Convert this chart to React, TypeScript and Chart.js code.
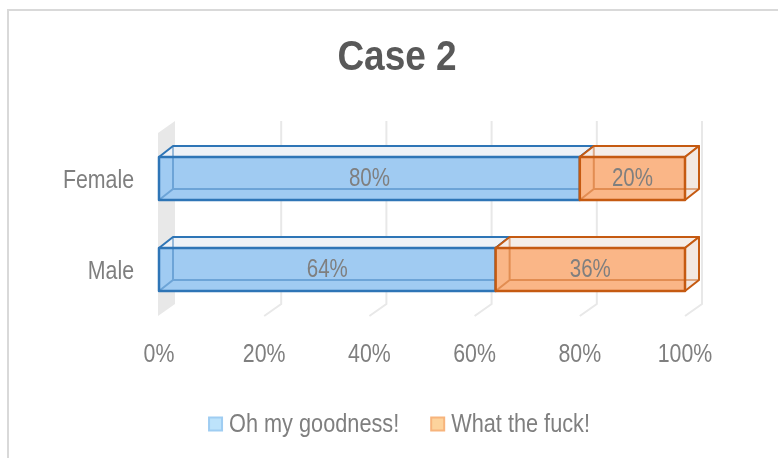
import React, { useEffect, useRef } from 'react';
import { Chart, registerables } from 'chart.js';

Chart.register(...registerables);

const categories = ['Female', 'Male'];
const seriesNames = ['Oh my goodness!', 'What the fuck!'];
const ohMyGoodness = [80, 64];
const whatTheFuck = [20, 36];
const xTickValues = [0, 20, 40, 60, 80, 100];
const chartTitle = 'Case 2';

const FONT = "'Liberation Sans', Arial, sans-serif";
const NARROW = 0.82; // horizontal squeeze giving a narrow face
const TEXT_GRAY = '#7f7f7f';

const faces = [
  { front: '#a0cbf2', top: '#eef2f7', side: '#e9f1f9', edge: '#2e75b6', inner: 'rgba(46,117,182,0.45)', legendFill: '#bde3fb', legendEdge: '#9fcdf2' },
  { front: '#fab687', top: '#f5ede8', side: '#f3e8e1', edge: '#c55a11', inner: 'rgba(197,90,17,0.45)', legendFill: '#fdd39c', legendEdge: '#f7b47c' },
];

// depth of bars and of the wall (3D look)
const DX = 14, DY = -11;
const WX = 17, WY = -12;

function poly(ctx: CanvasRenderingContext2D, pts: number[][], fill: string, stroke: string) {
  ctx.beginPath();
  ctx.moveTo(pts[0][0], pts[0][1]);
  for (let i = 1; i < pts.length; i++) ctx.lineTo(pts[i][0], pts[i][1]);
  ctx.closePath();
  ctx.fillStyle = fill;
  ctx.fill();
  ctx.strokeStyle = stroke;
  ctx.lineWidth = 2;
  ctx.stroke();
}

function narrowText(ctx: CanvasRenderingContext2D, text: string, x: number, y: number, align: CanvasTextAlign, font: string, color: string, sx = NARROW) {
  ctx.save();
  ctx.font = font;
  ctx.fillStyle = color;
  ctx.textAlign = align;
  ctx.textBaseline = 'middle';
  ctx.translate(x, y);
  ctx.scale(sx, 1);
  ctx.fillText(text, 0, 0);
  ctx.restore();
}

function narrowWidth(ctx: CanvasRenderingContext2D, text: string, font: string, sx = NARROW) {
  ctx.save();
  ctx.font = font;
  const w = ctx.measureText(text).width * sx;
  ctx.restore();
  return w;
}

const backdrop = {
  id: 'backdrop',
  beforeDatasetsDraw(chart: any) {
    const { ctx, chartArea, scales } = chart;
    const xs = scales.x;
    const top = chartArea.top;
    const bottom = chartArea.bottom + 1;
    const x0 = xs.getPixelForValue(0) - 1;
    ctx.save();
    ctx.fillStyle = '#e8e8e8';
    ctx.beginPath();
    ctx.moveTo(x0, top);
    ctx.lineTo(x0 + WX, top + WY);
    ctx.lineTo(x0 + WX, bottom + WY);
    ctx.lineTo(x0, bottom);
    ctx.closePath();
    ctx.fill();
    ctx.strokeStyle = '#e8e8e8';
    ctx.lineWidth = 2;
    xTickValues.forEach((v) => {
      if (v === 0) return;
      const px = xs.getPixelForValue(v);
      ctx.beginPath();
      ctx.moveTo(px + WX, top + WY);
      ctx.lineTo(px + WX, bottom + WY);
      ctx.lineTo(px, bottom);
      ctx.stroke();
    });
    ctx.restore();
  },
};

const boxes = {
  id: 'boxes',
  afterDatasetsDraw(chart: any) {
    const { ctx } = chart;
    ctx.save();
    ctx.lineJoin = 'round';
    const n = chart.data.labels.length;
    const labelsToDraw: any[] = [];
    for (let i = 0; i < n; i++) {
      chart.data.datasets.forEach((ds: any, d: number) => {
        const el = chart.getDatasetMeta(d).data[i];
        const { x, y, base, height } = el.getProps(['x', 'y', 'base', 'height'], true);
        const l = Math.min(x, base), r = Math.max(x, base);
        const t = y - height / 2, b = y + height / 2;
        const f = faces[d];
        poly(ctx, [[l, t], [l + DX, t + DY], [r + DX, t + DY], [r, t]], f.top, f.edge);
        poly(ctx, [[r, t], [r + DX, t + DY], [r + DX, b + DY], [r, b]], f.side, f.edge);
        ctx.fillStyle = f.front;
        ctx.fillRect(l, t, r - l, b - t);
        ctx.strokeStyle = f.inner;
        ctx.lineWidth = 2;
        ctx.beginPath();
        ctx.moveTo(l + DX, t + DY);
        ctx.lineTo(l + DX, b + DY);
        ctx.lineTo(r + DX, b + DY);
        ctx.moveTo(l, b);
        ctx.lineTo(l + DX, b + DY);
        ctx.stroke();
        ctx.strokeStyle = f.edge;
        ctx.lineWidth = 2.5;
        ctx.strokeRect(l, t, r - l, b - t);
        labelsToDraw.push({ x: (l + r) / 2, y, text: ds.data[i] + '%' });
      });
    }
    ctx.restore();
    labelsToDraw.forEach((lb) => narrowText(ctx, lb.text, lb.x, lb.y + 1, 'center', `25px ${FONT}`, TEXT_GRAY));
  },
};

const texts = {
  id: 'texts',
  afterDraw(chart: any, _args: any, opts: any) {
    const { ctx, chartArea, scales } = chart;
    // title
    narrowText(ctx, chartTitle, opts.titleX, opts.titleY, 'center', `bold 43px ${FONT}`, '#595959', 0.86);
    // x ticks
    const tickFont = `26px ${FONT}`;
    xTickValues.forEach((v) => {
      narrowText(ctx, v + '%', scales.x.getPixelForValue(v), opts.xTickY, 'center', tickFont, TEXT_GRAY);
    });
    // y ticks
    categories.forEach((c, i) => {
      narrowText(ctx, c, chartArea.left - opts.yTickGap, scales.y.getPixelForTick(i) + 2, 'right', tickFont, TEXT_GRAY);
    });
    // legend
    const lsx = 0.835;
    const box = 15, gap = 6, itemGap = 31;
    const widths = chart.data.datasets.map((ds: any) => narrowWidth(ctx, ds.label, tickFont, lsx));
    const total = widths.reduce((s: number, w: number) => s + box + gap + w, 0) + itemGap * (widths.length - 1);
    let x = opts.legendX - total / 2;
    const y = opts.legendY;
    chart.data.datasets.forEach((ds: any, d: number) => {
      const f = faces[d];
      ctx.save();
      ctx.fillStyle = f.legendFill;
      ctx.strokeStyle = f.legendEdge;
      ctx.lineWidth = 2;
      ctx.beginPath();
      ctx.rect(x + 1, y - box / 2 + 1, box - 2, box - 2);
      ctx.fill();
      ctx.stroke();
      ctx.restore();
      narrowText(ctx, ds.label, x + box + gap, y + 1, 'left', tickFont, TEXT_GRAY, lsx);
      x += box + gap + widths[d] + itemGap;
    });
  },
};

export default function App() {
  const ref = useRef<HTMLCanvasElement | null>(null);
  useEffect(() => {
    if (!ref.current) return;
    const chart = new Chart(ref.current, {
      type: 'bar',
      data: {
        labels: categories,
        datasets: [
          { label: seriesNames[0], data: ohMyGoodness, xAxisID: 'x', yAxisID: 'y', backgroundColor: 'rgba(0,0,0,0)', borderWidth: 0, barThickness: 43 },
          { label: seriesNames[1], data: whatTheFuck, xAxisID: 'x', yAxisID: 'y', backgroundColor: 'rgba(0,0,0,0)', borderWidth: 0, barThickness: 43 },
        ],
      } as any,
      options: {
        indexAxis: 'y',
        animation: false,
        responsive: true,
        maintainAspectRatio: false,
        layout: { padding: { left: 7, right: 0, top: 122, bottom: 0 } },
        plugins: {
          legend: { display: false },
          tooltip: { enabled: false },
          title: { display: false },
          texts: { titleX: 388, titleY: 47, xTickY: 344, yTickGap: 25, legendX: 390, legendY: 413 },
        } as any,
        scales: {
          x: {
            type: 'linear',
            position: 'bottom',
            stacked: true,
            min: 0,
            max: 100,
            grid: { display: false },
            border: { display: false },
            ticks: { stepSize: 20, display: false },
            afterFit: (s: any) => { s.height = 143; },
          },
          y: {
            type: 'category',
            position: 'left',
            stacked: true,
            grid: { display: false },
            border: { display: false },
            ticks: { display: false },
            afterFit: (s: any) => { s.width = 143; },
          },
          r: {
            type: 'linear',
            position: 'right',
            display: true,
            grid: { display: false },
            border: { display: false },
            ticks: { display: false },
            afterFit: (s: any) => { s.width = 93; },
          },
        } as any,
      } as any,
      plugins: [backdrop, boxes, texts],
    });
    return () => chart.destroy();
  }, []);

  return (
    <div
      style={{
        position: 'fixed',
        left: 7,
        top: 9,
        width: 800,
        height: 480,
        borderTop: '2px solid #d9d9d9',
        borderLeft: '2px solid #d9d9d9',
        background: '#fff',
      }}
    >
      <div style={{ position: 'relative', width: 769, height: 447 }}>
        <canvas ref={ref} />
      </div>
    </div>
  );
}
